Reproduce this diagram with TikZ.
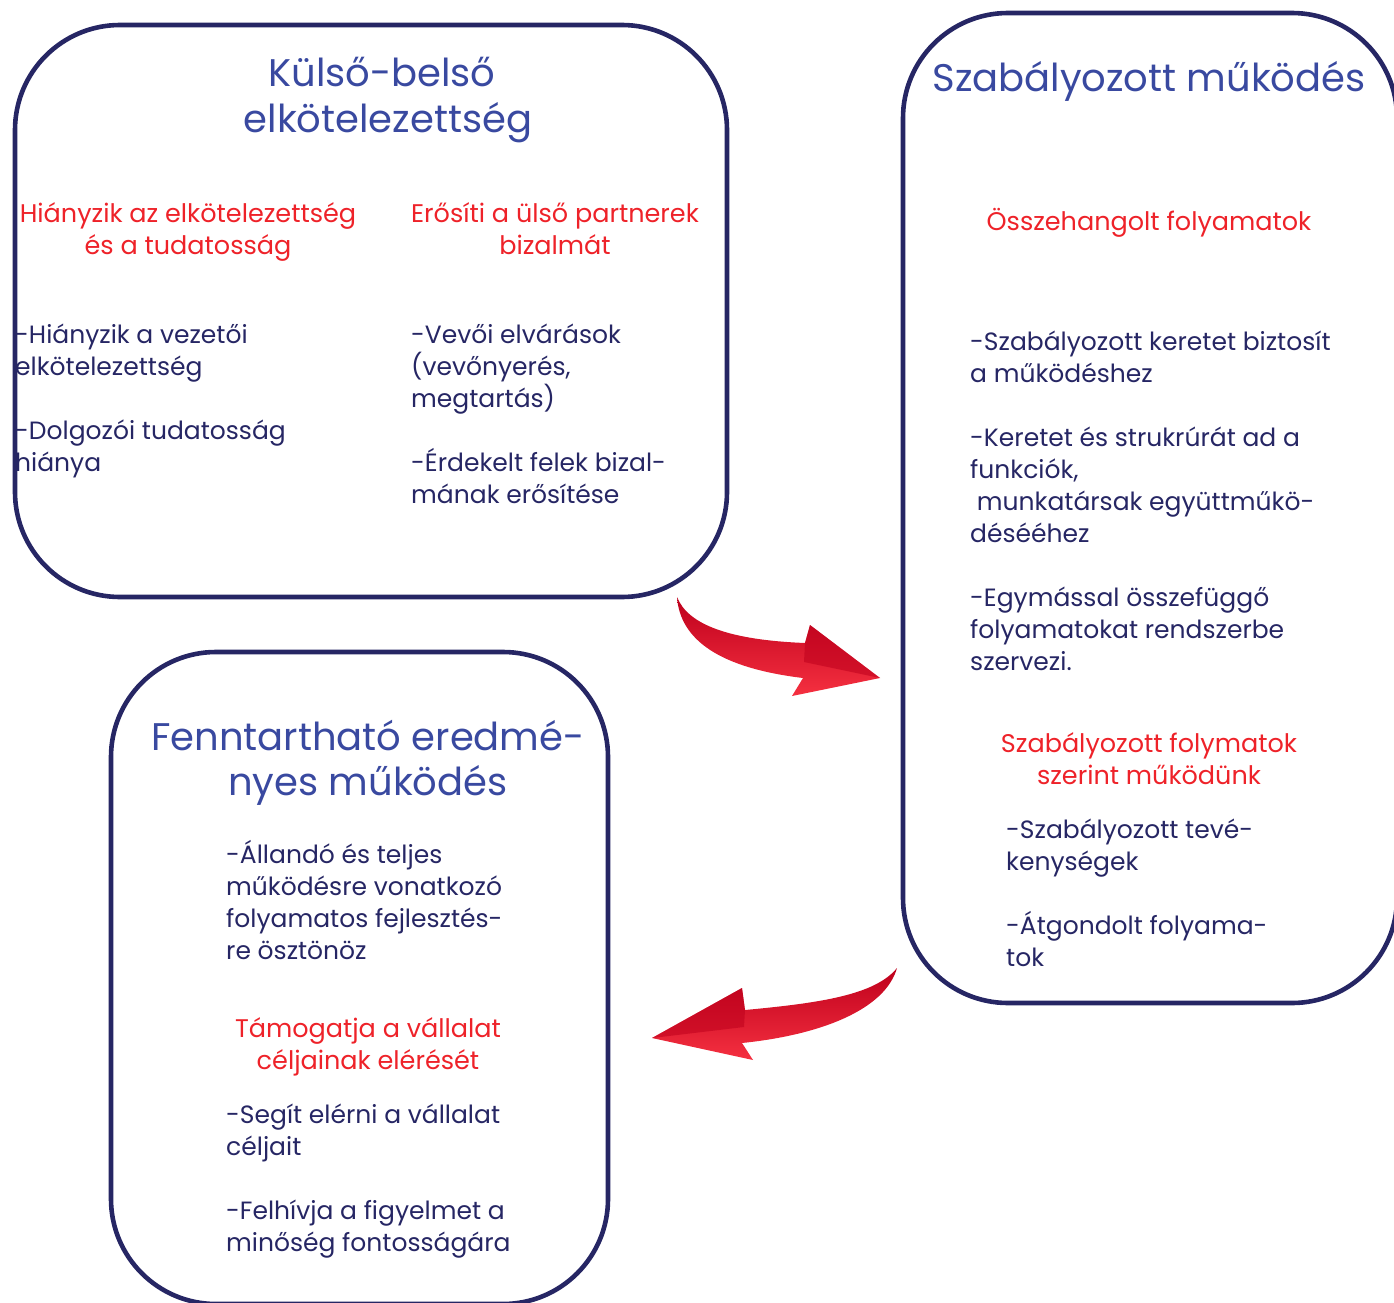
\documentclass[tikz,border=0pt]{standalone}
\usepackage{fontspec}
\setmainfont{Poppins}
\definecolor{navy}{RGB}{38,38,100}
\definecolor{ttlblue}{RGB}{57,73,160}
\definecolor{hired}{RGB}{238,34,41}
\definecolor{ardark}{RGB}{190,0,28}
\definecolor{arlight}{RGB}{245,48,64}
\tikzset{
  box/.style={draw=navy, line width=4.6pt, rounded corners=105pt},
  ttl/.style={text=ttlblue, font=\fontsize{38.5}{45}\selectfont, inner sep=0pt, align=center, anchor=base},
  redt/.style={text=hired, font=\fontsize{25.5}{32}\selectfont, inner sep=0pt, align=center, anchor=base},
  body/.style={text=navy, font=\fontsize{25}{32}\selectfont, inner sep=0pt, align=left, anchor=base west},
  arrowbody/.style={top color=ardark, bottom color=arlight, draw=none},
  headtop/.style={fill=ardark, opacity=0.55, draw=none}
}
\begin{document}
\begin{tikzpicture}[x=1pt,y=-1pt]
\useasboundingbox (0,0) rectangle (1394,1303);
\clip (0,0) rectangle (1394,1303);

% boxes
\draw[box] (15,25) rectangle (727,597);
\draw[box] (903,13) rectangle (1397,1003);
\draw[box] (111,652) rectangle (608,1304);

% box 1 (anchor base = baseline of last line)
\node[ttl] (t1a) at (382,87) {Külső-belső};
\node[ttl] (t1b) at (388,132) {elkötelezettség};
\node[redt] (r1a) at (188,254) {Hiányzik az elkötelezettség\\és a tudatosság};
\node[redt] (r1b) at (555,254) {Erősíti a ülső partnerek\\bizalmát};
\node[body] (b1a) at (15,375) {-Hiányzik a vezetői\\elkötelezettség};
\node[body] (b1b) at (15,471) {-Dolgozói tudatosság\\hiánya};
\node[body] (b1c) at (411,407) {-Vevői elvárások\\(vevőnyerés,\\megtartás)};
\node[body] (b1d) at (411,503) {-Érdekelt felek bizal-\\mának erősítése};

% box 2
\node[ttl] (t2) at (1149,92) {Szabályozott működés};
\node[redt] (r2a) at (1149,230) {Összehangolt folyamatok};
\node[body] (b2a) at (970,382) {-Szabályozott keretet biztosít\\a működéshez};
\node[body] (b2b) at (970,542) {-Keretet és strukrúrát ad a\\funkciók,\\\ munkatársak együttműkö-\\dés{}éé{}hez};
\node[body] (b2c) at (970,670) {-Egymással összefüggő\\folyamatokat rendszerbe\\szervezi.};
\node[redt] (r2b) at (1149,784) {Szabályozott folymatok\\szerint működünk};
\node[body] (b2d) at (1006,870) {-Szabályozott tevé-\\kenységek};
\node[body] (b2e) at (1006,966) {-Átgondolt folyama-\\tok};

% box 3
\node[ttl] (t3) at (368,795) {Fenntartható eredmé-\\nyes működés};
\node[body] (b3a) at (226,959) {-Állandó és teljes\\működésre vonatkozó\\folyamatos fejlesztés-\\re ösztönöz};
\node[redt] (r3) at (368,1069) {Támogatja a vállalat\\céljainak elérését};
\node[body] (b3b) at (226,1155) {-Segít elérni a vállalat\\céljait};
\node[body] (b3c) at (226,1251) {-Felhívja a figyelmet a\\minőség fontosságára};

% arrow 1
\coordinate (a1tail) at (677,597);
\coordinate (a1uj) at (805,643);
\coordinate (a1ub) at (810,625);
\coordinate (a1tip) at (880,678);
\coordinate (a1lb) at (792,696);
\coordinate (a1lj) at (803,678);
\path[arrowbody] (a1tail) .. controls (688,625) and (730,640) .. (a1uj) -- (a1ub) -- (a1tip) -- (a1lb) -- (a1lj) .. controls (720,668) and (680,640) .. (a1tail) -- cycle;
\path[headtop] (a1uj) -- (a1ub) -- (a1tip) -- (804,662) -- cycle;

% arrow 2
\coordinate (a2tail) at (897,968);
\coordinate (a2uj) at (745,1010);
\coordinate (a2ub) at (742,988);
\coordinate (a2tip) at (652,1038);
\coordinate (a2lb) at (753,1060);
\coordinate (a2lj) at (742,1043);
\path[arrowbody] (a2tail) .. controls (875,995) and (820,1003) .. (a2uj) -- (a2ub) -- (a2tip) -- (a2lb) -- (a2lj) .. controls (820,1035) and (885,1010) .. (a2tail) -- cycle;
\path[headtop] (a2uj) -- (a2ub) -- (a2tip) -- (744,1027) -- cycle;
\end{tikzpicture}
\end{document}
